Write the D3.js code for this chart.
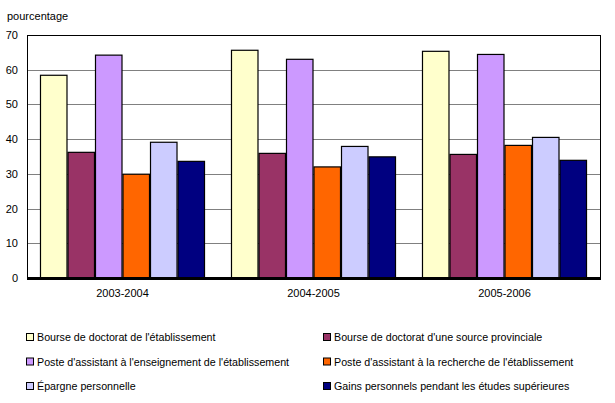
<!DOCTYPE html>
<html>
<head>
<meta charset="utf-8">
<script src="https://cdn.jsdelivr.net/npm/d3@7"></script>
<style>
  body { margin: 0; background: #fff; }
  text { font-family: Arial, "Liberation Sans", sans-serif; font-size: 11px; fill: #000; }
</style>
</head>
<body>
<div id="viz"></div>
<script>
var years = ["2003-2004", "2004-2005", "2005-2006"];
var series = [
  "Bourse de doctorat de l'établissement",
  "Bourse de doctorat d'une source provinciale",
  "Poste d'assistant à l'enseignement de l'établissement",
  "Poste d'assistant à la recherche de l'établissement",
  "Épargne personnelle",
  "Gains personnels pendant les études supérieures"
];
var colors = ["#ffffcc", "#993366", "#cc99ff", "#ff6600", "#ccccff", "#000080"];
var values2003 = [58.4, 36.2, 64.2, 29.9, 39.1, 33.6];
var values2004 = [65.6, 35.9, 63.0, 32.0, 37.9, 34.9];
var values2005 = [65.3, 35.6, 64.4, 38.2, 40.5, 33.9];
var yTicks = [0, 10, 20, 30, 40, 50, 60, 70];

var allValues = [values2003, values2004, values2005];

var w = 615, h = 403;
var plotLeft = 27, plotRight = 600, plotTop = 35, plotBottom = 278;

var svg = d3.select("#viz").append("svg")
    .attr("width", w)
    .attr("height", h);

var y = d3.scaleLinear().domain([0, 70]).range([plotBottom, plotTop]);

var x0 = d3.scaleBand()
    .domain(years)
    .range([plotLeft, plotRight])
    .paddingInner(0.136)
    .paddingOuter(0.068);

var x1 = d3.scaleBand()
    .domain(d3.range(series.length))
    .range([0, x0.bandwidth()]);

// gridlines
svg.append("g").selectAll("line")
  .data(yTicks.filter(function(d) { return d > 0 && d < 70; }))
  .enter().append("line")
    .attr("x1", plotLeft)
    .attr("x2", plotRight)
    .attr("y1", function(d) { return Math.round(y(d)) + 0.5; })
    .attr("y2", function(d) { return Math.round(y(d)) + 0.5; })
    .style("stroke", "#808080")
    .style("stroke-width", 1);

// bars
var groups = svg.append("g").selectAll("g")
  .data(years)
  .enter().append("g")
    .attr("transform", function(d) { return "translate(" + x0(d) + ",0)"; });

groups.selectAll("rect")
  .data(function(d, i) { return allValues[i]; })
  .enter().append("rect")
    .attr("x", function(d, i) { return x1(i) + 0.5; })
    .attr("y", function(d) { return y(d); })
    .attr("width", x1.bandwidth() - 1)
    .attr("height", function(d) { return plotBottom - y(d); })
    .style("fill", function(d, i) { return colors[i]; })
    .style("stroke", "#000")
    .style("stroke-width", 1.2);

// frame
svg.append("rect")
    .attr("x", plotLeft + 0.5)
    .attr("y", plotTop + 0.5)
    .attr("width", plotRight - plotLeft)
    .attr("height", plotBottom - plotTop)
    .style("fill", "none")
    .style("stroke", "#000")
    .style("stroke-width", 1);

svg.append("line")
    .attr("x1", plotLeft)
    .attr("x2", plotRight + 1)
    .attr("y1", plotBottom + 0.5)
    .attr("y2", plotBottom + 0.5)
    .style("stroke", "#000")
    .style("stroke-width", 3);

// y axis labels
var yAxis = d3.axisLeft(y).tickValues(yTicks).tickSize(0).tickPadding(9);
var ya = svg.append("g")
    .attr("transform", "translate(" + plotLeft + ",0)")
    .call(yAxis);
ya.select(".domain").remove();
ya.selectAll("text").style("font-size", "11px").style("font-family", "Arial, 'Liberation Sans', sans-serif");

// x axis labels
var xAxis = d3.axisBottom(x0).tickSize(0).tickPadding(11);
var xa = svg.append("g")
    .attr("transform", "translate(0," + plotBottom + ")")
    .call(xAxis);
xa.select(".domain").remove();
xa.selectAll("text").style("font-size", "11px").style("font-family", "Arial, 'Liberation Sans', sans-serif");

svg.append("text")
    .attr("x", 7)
    .attr("y", 20)
    .text("pourcentage");

// legend
var legend = svg.append("g").selectAll("g")
  .data(series)
  .enter().append("g")
    .attr("transform", function(d, i) {
      var col = i % 2, row = Math.floor(i / 2);
      return "translate(" + (col == 0 ? 26 : 323) + "," + (337 + row * 24.5) + ")";
    });

legend.append("rect")
    .attr("x", 0.5)
    .attr("y", -3.5)
    .attr("width", 7)
    .attr("height", 7)
    .style("fill", function(d, i) { return colors[i]; })
    .style("stroke", "#000")
    .style("stroke-width", 1);

legend.append("text")
    .attr("x", 11)
    .attr("y", 4)
    .style("font-size", "10.7px")
    .text(function(d) { return d; });
</script>
</body>
</html>
